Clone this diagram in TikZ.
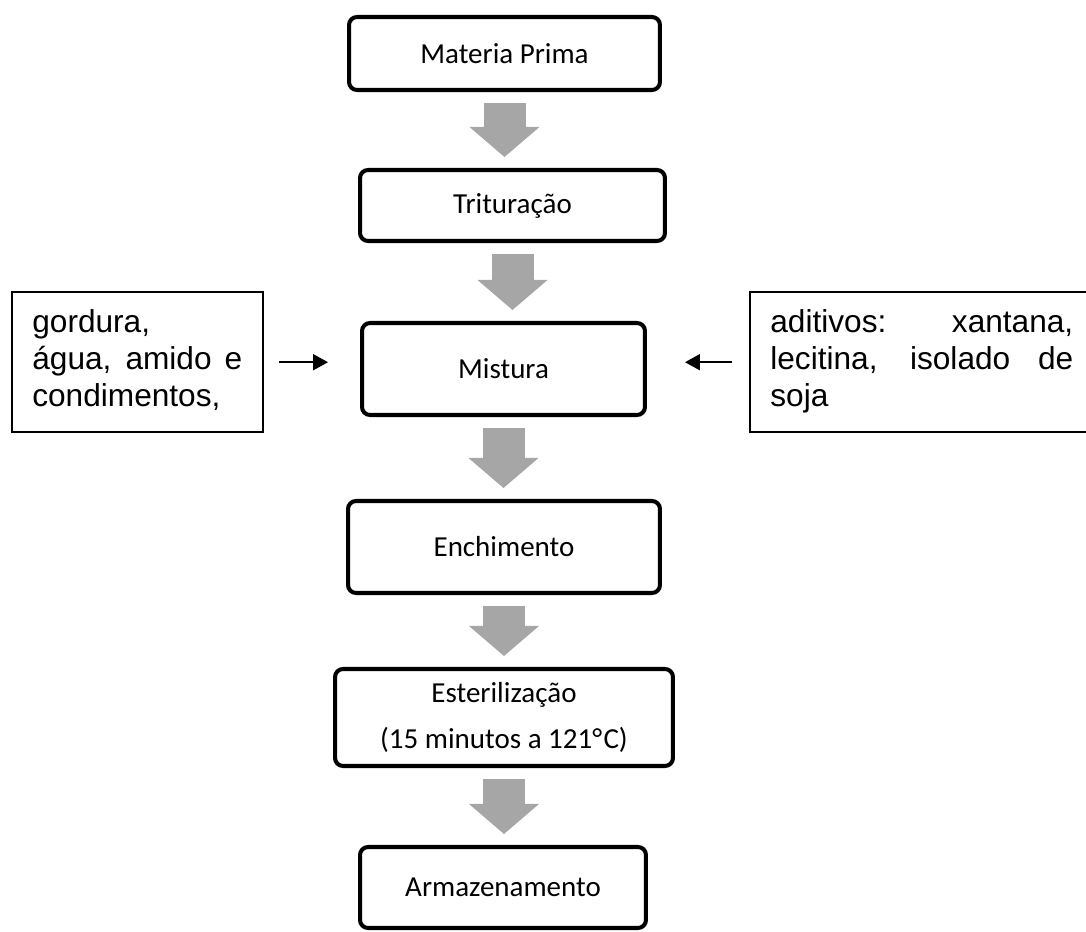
\documentclass[tikz,border=0pt]{standalone}
\usepackage{fontspec}
\setmainfont{Carlito}
\newfontfamily\arialfont{Liberation Sans}
\usepackage{tikz}
\usetikzlibrary{arrows.meta,positioning,calc}
\definecolor{flowgray}{RGB}{166,166,166}

\begin{document}
\begin{tikzpicture}[x=0.02cm, y=-0.02cm,
    stepbox/.style={draw, line width=2.3pt, rounded corners=0.16cm, align=center,
      font=\fontsize{16.5}{26.6}\selectfont, inner sep=0pt},
    sidebox/.style={draw, line width=1.4pt, inner sep=0pt, anchor=north west},
    sidetext/.style={font=\arialfont\fontsize{18}{21}\selectfont, align=justify,
      inner xsep=0.42cm, inner ysep=0.36cm, anchor=north west},
    flowarrow/.style={flowgray, line width=0.84cm,
      -{Triangle[length=0.6cm, width=1.4cm, line width=0pt]},
      shorten <=0.22cm, shorten >=0.22cm},
    feed/.style={line width=1.1pt, -{Triangle[length=0.3cm, width=0.32cm]}}]

  \useasboundingbox (0,0) rectangle (1086,932);
  \clip (0,0) rectangle (1086,932);

  % Steps
  \node[stepbox, minimum width=6.22cm, minimum height=1.46cm] (mp) at (504.5,53.5) {Materia Prima};
  \node[stepbox, minimum width=6.1cm, minimum height=1.42cm] (tri) at (512.5,205.5) {Trituração};
  \node[stepbox, minimum width=5.66cm, minimum height=1.84cm] (mis) at (503.5,369) {Mistura};
  \node[stepbox, minimum width=6.24cm, minimum height=1.84cm] (enc) at (504,547) {Enchimento};
  \node[stepbox, minimum width=6.76cm, minimum height=1.94cm] (est) at (504,717.5) {Esterilização\\(15 minutos a 121°\kern0.8pt C)};
  \node[stepbox, minimum width=5.72cm, minimum height=1.62cm] (arm) at (503,887.5) {Armazenamento};

  % Ingredients
  \node[sidebox, minimum width=5.02cm, minimum height=2.8cm] (gord) at (11,291) {};
  \node[sidetext, text width=4.2cm] (gordtxt) at (gord.north west) {gordura,\\ água, amido e\linebreak condimentos,};
  \node[sidebox, minimum width=7.02cm, minimum height=2.8cm] (adit) at (749,291) {};
  \node[sidetext, text width=6.06cm] (adittxt) at (adit.north west) {aditivos: xantana,\linebreak lecitina, isolado de\linebreak soja};

  % Flow
  \draw[flowarrow] (mp.south) -- (mp.south |- tri.north);
  \draw[flowarrow] (tri.south) -- (tri.south |- mis.north);
  \draw[flowarrow] (mis.south) -- (mis.south |- enc.north);
  \draw[flowarrow] (enc.south) -- (enc.south |- est.north);
  \draw[flowarrow] (est.south) -- (est.south |- arm.north);

  \draw[feed, shorten <=0.3cm, shorten >=0.64cm] (gord.east) -- (gord.east -| mis.west);
  \draw[feed, shorten <=0.34cm, shorten >=0.76cm] (adit.west) -- (adit.west -| mis.east);
\end{tikzpicture}
\end{document}
